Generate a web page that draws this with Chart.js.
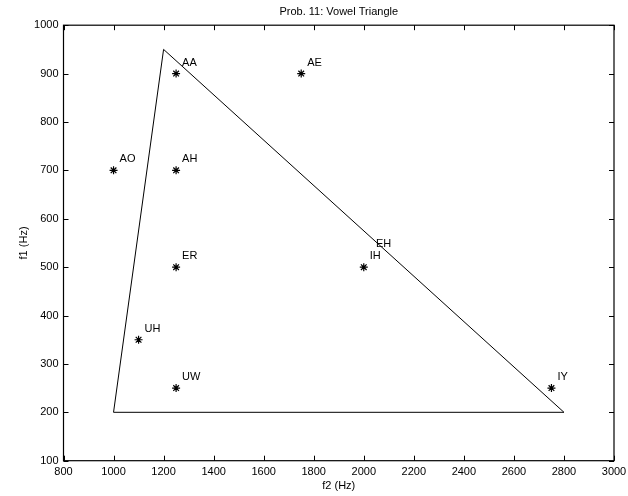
<!DOCTYPE html>
<html>
<head>
<meta charset="utf-8">
<script src="https://cdn.jsdelivr.net/npm/chart.js@4/dist/chart.umd.min.js"></script>
<style>
  html, body { margin: 0; padding: 0; background: #fff; }
  #wrap { width: 628px; height: 496px; }
</style>
</head>
<body>
<div id="wrap"><canvas id="vowelChart" width="628" height="496"></canvas></div>
<script>
// Vowel formants (Hz)
const vowelNames = ['AA', 'AE', 'AO', 'AH', 'ER', 'IH', 'UH', 'UW', 'IY'];
const vowelF2 = [1250, 1750, 1000, 1250, 1250, 2000, 1100, 1250, 2750];
const vowelF1 = [900, 900, 700, 700, 500, 500, 350, 250, 250];

// label without a marker
const extraNames = ['EH'];
const extraF2 = [2025];
const extraF1 = [525];

// triangle corners (closed)
const triangleF2 = [1000, 1200, 2800, 1000];
const triangleF1 = [200, 950, 200, 200];

const xTicks = [800, 1000, 1200, 1400, 1600, 1800, 2000, 2200, 2400, 2600, 2800, 3000];
const yTicks = [100, 200, 300, 400, 500, 600, 700, 800, 900, 1000];

const FONT = 'Liberation Sans, Arial, Helvetica, sans-serif';

// box + inward ticks, like matlab
const boxPlugin = {
    id: 'boxTicks',
    afterDraw(chart) {
        const ctx = chart.ctx;
        const a = chart.chartArea;
        const xs = chart.scales.x;
        const ys = chart.scales.y;
        const len = 5;
        ctx.save();
        ctx.strokeStyle = '#000';
        ctx.lineWidth = 1.2;
        ctx.strokeRect(a.left, a.top, a.right - a.left, a.bottom - a.top);
        ctx.lineWidth = 1;
        ctx.beginPath();
        xTicks.forEach(v => {
            const px = Math.round(xs.getPixelForValue(v)) + 0.5;
            ctx.moveTo(px, a.bottom); ctx.lineTo(px, a.bottom - len);
            ctx.moveTo(px, a.top); ctx.lineTo(px, a.top + len);
        });
        yTicks.forEach(v => {
            const py = Math.round(ys.getPixelForValue(v)) + 0.5;
            ctx.moveTo(a.left, py); ctx.lineTo(a.left + len, py);
            ctx.moveTo(a.right, py); ctx.lineTo(a.right - len, py);
        });
        ctx.stroke();

        // vowel labels
        ctx.fillStyle = '#000';
        ctx.font = '11px ' + FONT;
        ctx.textAlign = 'left';
        ctx.textBaseline = 'middle';
        const drawLabel = (name, f2, f1) => {
            const px = xs.getPixelForValue(f2);
            const py = ys.getPixelForValue(f1);
            ctx.fillText(name, px + 6, py - 11);
        };
        vowelNames.forEach((n, i) => drawLabel(n, vowelF2[i], vowelF1[i]));
        extraNames.forEach((n, i) => drawLabel(n, extraF2[i], extraF1[i]));
        ctx.restore();
    }
};

const ctx = document.getElementById('vowelChart').getContext('2d');
const chart = new Chart(ctx, {
    type: 'scatter',
    data: {
        datasets: [
            {
                label: 'triangle',
                data: triangleF2.map((x, i) => ({ x: x, y: triangleF1[i] })),
                showLine: true,
                borderColor: '#000',
                borderWidth: 1,
                pointRadius: 0,
                fill: false,
                tension: 0
            },
            {
                label: 'vowels',
                data: vowelF2.map((x, i) => ({ x: x, y: vowelF1[i] })),
                pointStyle: 'star',
                pointRadius: 4,
                borderColor: '#000',
                backgroundColor: '#000',
                borderWidth: 1.2,
                showLine: false
            }
        ]
    },
    options: {
        responsive: false,
        animation: false,
        devicePixelRatio: 1,
        layout: { padding: { left: 0, right: 14, top: 0, bottom: 0 } },
        plugins: {
            legend: { display: false },
            tooltip: { enabled: false },
            title: {
                display: true,
                text: 'Prob. 11: Vowel Triangle',
                fullSize: false,
                color: '#000',
                font: { family: FONT, size: 11, weight: 'normal' },
                padding: { top: 5, bottom: 7 }
            }
        },
        scales: {
            x: {
                type: 'linear',
                min: 800,
                max: 3000,
                afterBuildTicks: s => { s.ticks = xTicks.map(v => ({ value: v })); },
                afterFit: s => { s.height = 35.3; s.paddingRight = 0; s.paddingLeft = 0; },
                grid: { display: false, drawTicks: false },
                border: { display: false },
                ticks: {
                    color: '#000',
                    padding: 5,
                    maxRotation: 0,
                    autoSkip: false,
                    callback: v => String(v),
                    font: { family: FONT, size: 11 }
                },
                title: {
                    display: true,
                    text: 'f2 (Hz)',
                    color: '#000',
                    font: { family: FONT, size: 11 },
                    padding: { top: 0, bottom: 3 }
                }
            },
            y: {
                type: 'linear',
                min: 100,
                max: 1000,
                afterBuildTicks: s => { s.ticks = yTicks.map(v => ({ value: v })); },
                afterFit: s => { s.width = 63.5; s.paddingTop = 0; s.paddingBottom = 0; },
                grid: { display: false, drawTicks: false },
                border: { display: false },
                ticks: {
                    color: '#000',
                    padding: 5,
                    autoSkip: false,
                    callback: v => String(v),
                    font: { family: FONT, size: 11 }
                },
                title: {
                    display: true,
                    text: 'f1 (Hz)',
                    color: '#000',
                    font: { family: FONT, size: 11 },
                    padding: { top: 17, bottom: 0 }
                }
            }
        }
    },
    plugins: [boxPlugin]
});
</script>
</body>
</html>
